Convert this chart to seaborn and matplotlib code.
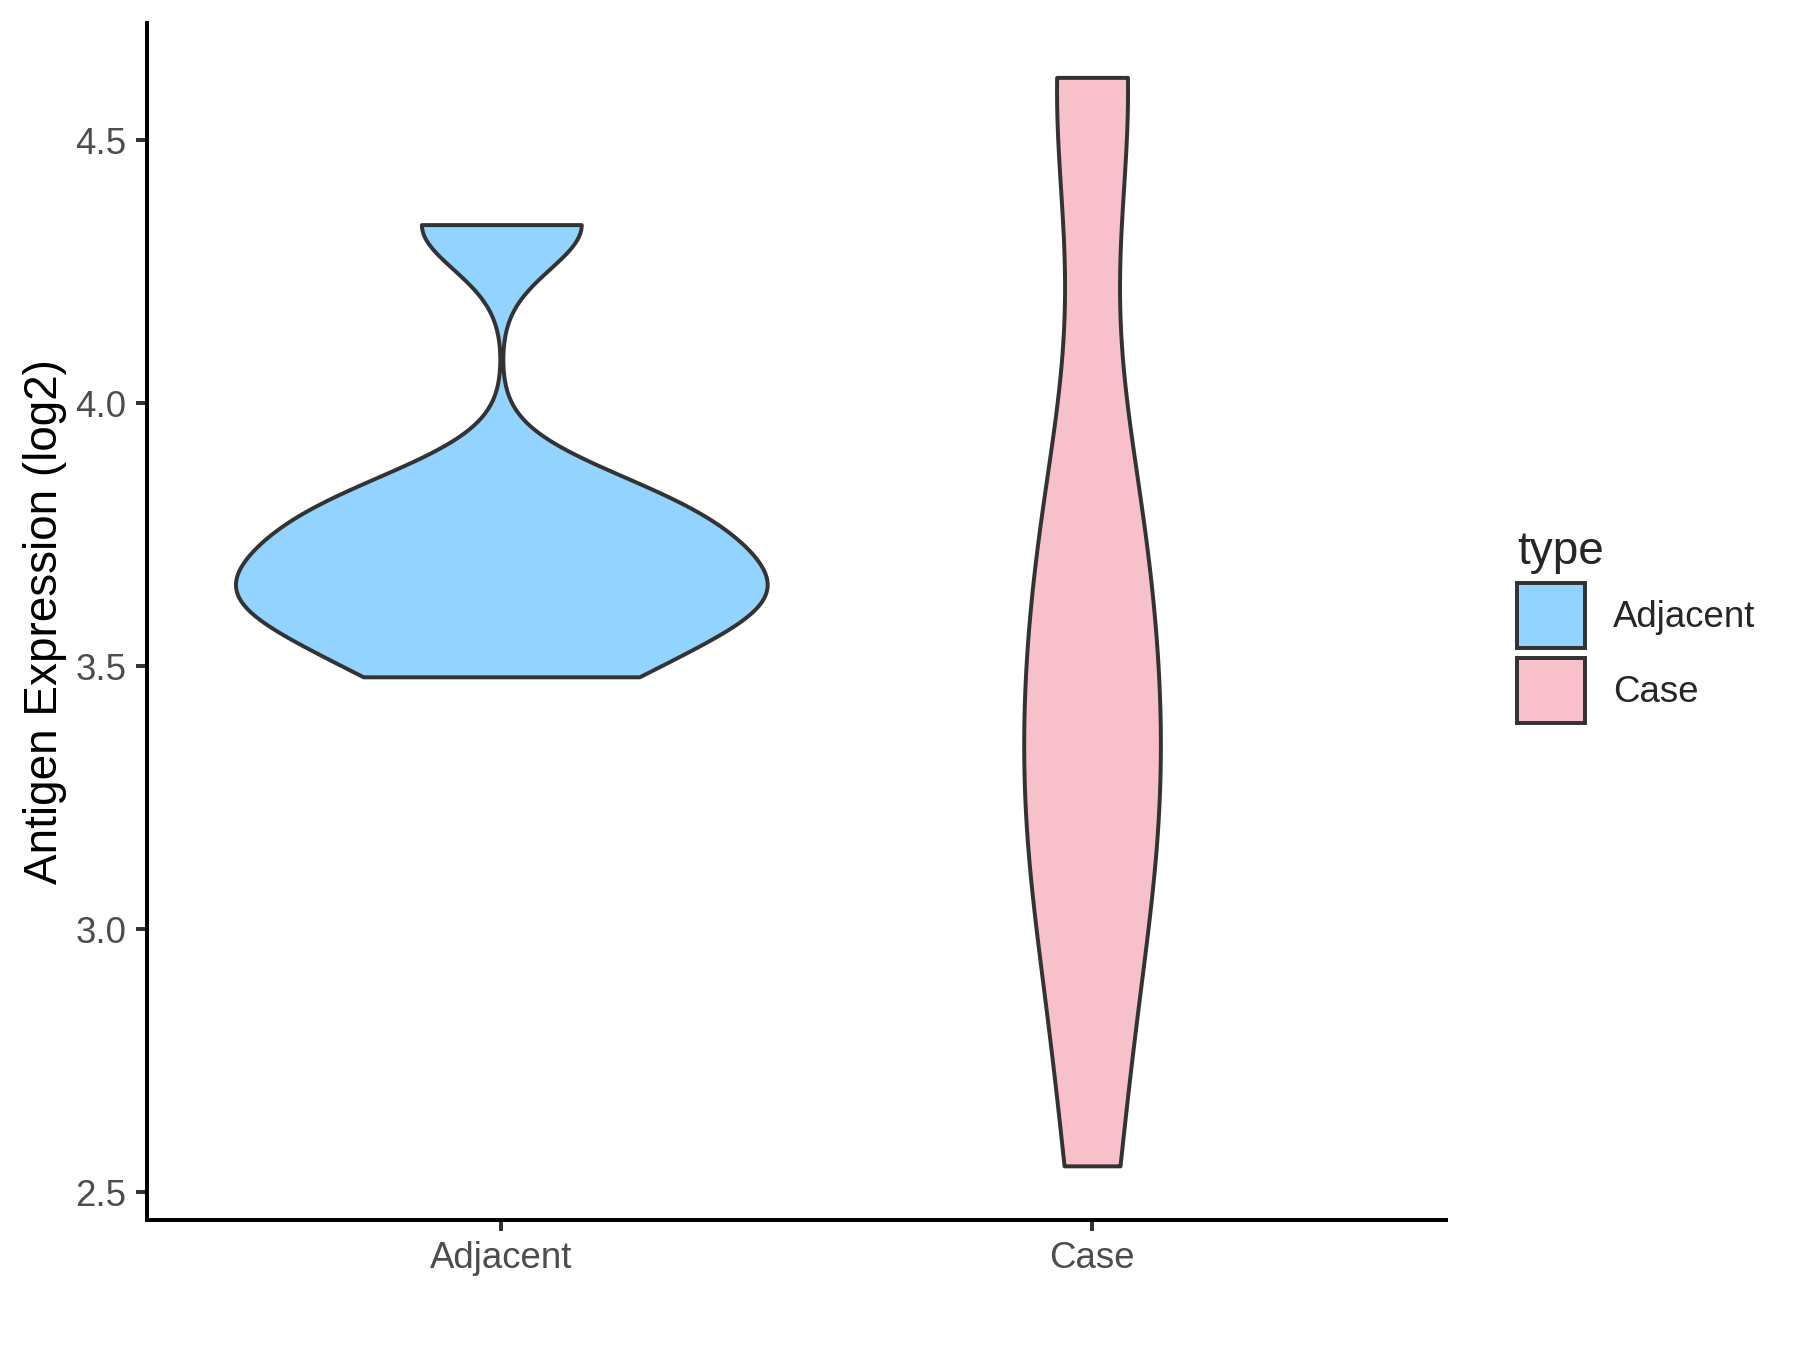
import matplotlib
matplotlib.use("Agg")
import matplotlib.pyplot as plt
import seaborn as sns
import numpy as np
import pandas as pd
from matplotlib.patches import Patch

categories = ["Adjacent", "Case"]
adjacent_values = [3.48, 3.585, 3.63, 3.68, 3.76, 3.825, 4.34]
case_values = [2.55, 2.95, 3.15, 3.30, 3.45, 3.70, 3.85, 4.62, 4.62]
colors = ["#92D3FF", "#F7C0CB"]
y_ticks = [2.5, 3.0, 3.5, 4.0, 4.5]
y_tick_labels = ["2.5", "3.0", "3.5", "4.0", "4.5"]

df = pd.DataFrame({
    "type": ["Adjacent"] * len(adjacent_values) + ["Case"] * len(case_values),
    "value": adjacent_values + case_values,
})


def nrd0_factor(kde):
    # R's bw.nrd0 rule (as used by ggplot2), expressed as a factor of the sd
    x = np.asarray(kde.dataset).ravel()
    sd = np.std(x, ddof=1)
    q75, q25 = np.percentile(x, [75, 25])
    h = 0.9 * min(sd, (q75 - q25) / 1.34) * x.size ** -0.2
    return h / sd


sns.set_style("white")
plt.rcParams["font.family"] = ["Liberation Sans", "DejaVu Sans"]

LW = 0.95
fig = plt.figure(figsize=(6, 4.5), dpi=300)
ax = fig.add_axes([0.0816, 0.0961, 0.7220, 0.8869])

sns.violinplot(data=df, x="type", y="value", order=categories,
               color=colors[0], saturation=1, cut=0, inner=None,
               density_norm="area", width=0.9, bw_method=nrd0_factor,
               gridsize=512, linewidth=LW, linecolor="#333333", ax=ax)
for coll, c in zip(ax.collections, colors):
    coll.set_facecolor(c)

ax.set_xlim(-0.6, 1.6)
ax.set_ylim(2.4465, 4.7235)
ax.set_yticks(y_ticks)
ax.set_yticklabels(y_tick_labels)
ax.set_xlabel("")
ax.set_ylabel("Antigen Expression (log2)", fontsize=11, color="black", labelpad=2)
for s in ["top", "right"]:
    ax.spines[s].set_visible(False)
for s in ["left", "bottom"]:
    ax.spines[s].set_color("black")
    ax.spines[s].set_linewidth(LW)
ax.tick_params(axis="both", which="both", length=2.75, width=LW, color="#333333",
               labelsize=8.8, labelcolor="#4D4D4D", direction="out",
               left=True, bottom=True, pad=2.2)

handles = [Patch(facecolor=c, edgecolor="#333333", linewidth=LW, label=l)
           for c, l in zip(colors, categories)]
leg = fig.legend(handles=handles, title="type", loc="center left",
                 bbox_to_anchor=(0.843, 0.536), frameon=False, fontsize=8.8,
                 title_fontsize=11, handlelength=1.85, handleheight=2.36,
                 handletextpad=0.75, labelspacing=0.26, borderpad=0,
                 borderaxespad=0)
leg._legend_box.align = "left"

fig.savefig("out.png", dpi=300)
